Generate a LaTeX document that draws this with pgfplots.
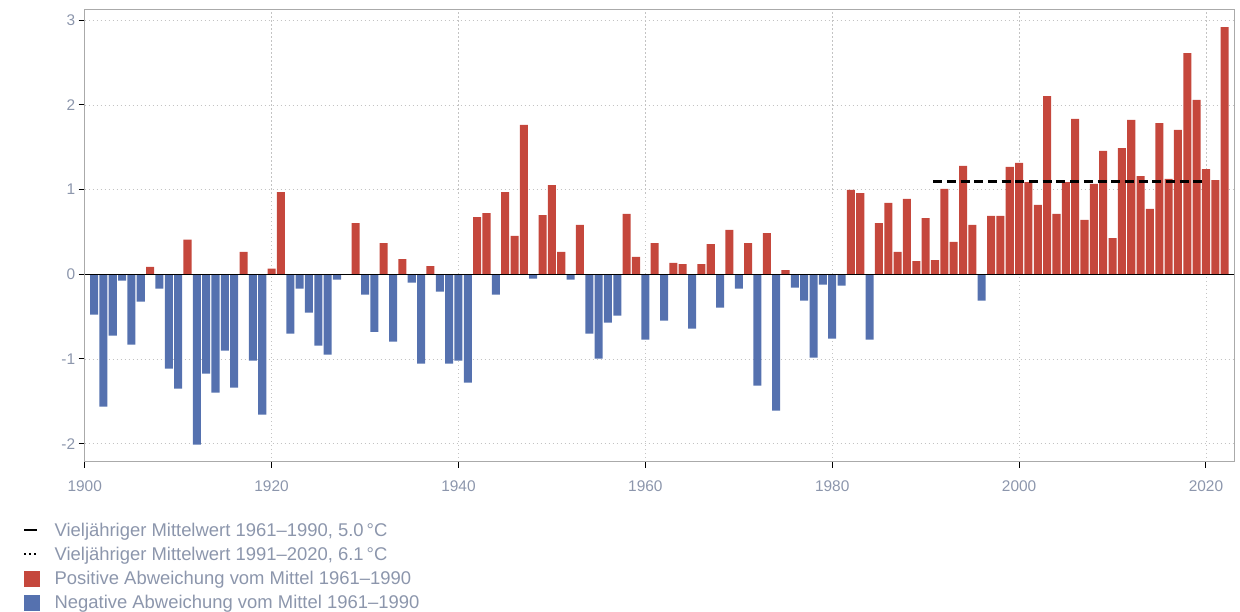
\documentclass[border=0pt]{standalone}
\usepackage{fontspec}
\setmainfont{Liberation Sans}
\usepackage{pgfplots}
\pgfplotsset{compat=1.18}
\definecolor{posred}{RGB}{197,71,60}
\definecolor{negblue}{RGB}{85,113,175}
\definecolor{txt}{RGB}{140,150,172}
\definecolor{frame}{RGB}{170,170,170}
\definecolor{gridc}{RGB}{195,195,195}
\begin{document}
\begin{tikzpicture}
\begin{axis}[
  at={(0,0)}, anchor=south west,
  scale only axis, width=1149.3bp, height=451.7bp,
  xmin=1900, xmax=2023, ymin=-2.213, ymax=3.122,
  xtick={1900,1920,...,2020}, ytick={-2,-1,0,1,2,3},
  /pgf/number format/assume math mode=true,
  /pgf/number format/1000 sep={},
  tick label style={text=txt, font=\fontsize{15.5}{18}\selectfont},
  xticklabel style={yshift=-9bp},
  tick align=outside, major tick length=6bp,
  every tick/.style={black, line width=1bp},
  xtick pos=bottom, ytick pos=left,
  axis line style={frame, line width=1bp},
  grid=major, major grid style={gridc, line width=0.9bp, dash pattern=on 1.2bp off 2.8bp},
  ybar, bar width=0.86, bar shift=0pt,
  clip=false,
  legend cell align=left,
  legend style={at={(axis description cs:-0.0535,-0.133)}, anchor=north west,
    draw=none, fill=none, inner sep=0pt, row sep=7.2bp,
    font=\fontsize{18.5}{21}\selectfont, text=txt,
    nodes={inner sep=1bp},
    /tikz/every odd column/.append style={column sep=14bp}},
]
\addlegendimage{legend image code/.code={\draw[black, line width=2bp] (0bp,0bp) -- (13bp,0bp);}}
\addlegendentry{Vieljähriger Mittelwert 1961–1990, 5.0\,°C}
\addlegendimage{legend image code/.code={\draw[black, line width=2bp, dash pattern=on 2bp off 3bp] (0bp,0bp) -- (14bp,0bp);}}
\addlegendentry{Vieljähriger Mittelwert 1991–2020, 6.1\,°C}
\addlegendimage{legend image code/.code={\fill[posred] (0bp,-7.5bp) rectangle (15bp,7.5bp);}}
\addlegendentry{Positive Abweichung vom Mittel 1961–1990}
\addlegendimage{legend image code/.code={\fill[negblue] (0bp,-7.5bp) rectangle (15bp,7.5bp);}}
\addlegendentry{Negative Abweichung vom Mittel 1961–1990}

\addplot[fill=posred, draw=none, forget plot] coordinates {
(1907,0.087) (1911,0.409) (1917,0.264) (1920,0.067) (1921,0.972)
(1929,0.606) (1932,0.37) (1934,0.181) (1937,0.098)
(1942,0.677) (1943,0.724) (1945,0.972) (1946,0.453) (1947,1.764)
(1949,0.70) (1950,1.055) (1951,0.264) (1953,0.583) (1958,0.713)
(1959,0.205) (1961,0.37) (1963,0.134) (1964,0.122) (1966,0.122)
(1967,0.358) (1969,0.524) (1971,0.37) (1973,0.488) (1975,0.051)
(1982,0.996) (1983,0.96) (1985,0.606) (1986,0.843) (1987,0.264)
(1988,0.89) (1989,0.157) (1990,0.665) (1991,0.169) (1992,1.008)
(1993,0.382) (1994,1.28) (1995,0.583) (1997,0.689) (1998,0.689)
(1999,1.268) (2000,1.315) (2001,1.09) (2002,0.819) (2003,2.106)
(2004,0.713) (2005,1.09) (2006,1.835) (2007,0.642) (2008,1.067)
(2009,1.457) (2010,0.429) (2011,1.492) (2012,1.823) (2013,1.161)
(2014,0.772) (2015,1.787) (2016,1.126) (2017,1.705) (2018,2.614)
(2019,2.059) (2020,1.244) (2021,1.114) (2022,2.921)
};
\addplot[fill=negblue, draw=none, forget plot] coordinates {
(1901,-0.476) (1902,-1.563) (1903,-0.724) (1904,-0.075) (1905,-0.83)
(1906,-0.323) (1908,-0.169) (1909,-1.114) (1910,-1.35) (1912,-2.01)
(1913,-1.173) (1914,-1.398) (1915,-0.902) (1916,-1.339) (1918,-1.02)
(1919,-1.657) (1922,-0.70) (1923,-0.169) (1924,-0.453) (1925,-0.843)
(1926,-0.949) (1927,-0.063) (1930,-0.24) (1931,-0.681) (1933,-0.795)
(1935,-0.098) (1936,-1.055) (1938,-0.205) (1939,-1.055) (1940,-1.02)
(1941,-1.28) (1944,-0.24) (1948,-0.051) (1952,-0.063) (1954,-0.70)
(1955,-0.996) (1956,-0.571) (1957,-0.488) (1960,-0.772) (1962,-0.547)
(1965,-0.642) (1968,-0.394) (1970,-0.169) (1972,-1.315) (1974,-1.61)
(1976,-0.157) (1977,-0.311) (1978,-0.984) (1979,-0.122) (1980,-0.76)
(1981,-0.134) (1984,-0.772) (1996,-0.311)
};
\addplot[sharp plot, black, line width=1.3bp, forget plot] coordinates {(1900,0) (2023,0)};
\addplot[sharp plot, black, line width=2.8bp, dash pattern=on 9bp off 4.7bp, forget plot] coordinates {(1990.8,1.1) (2020.1,1.1)};
\end{axis}
\pgfresetboundingbox
\path[use as bounding box] (-84.7bp,-150.3bp) rectangle (1155.3bp,461.7bp);
\end{tikzpicture}
\end{document}
